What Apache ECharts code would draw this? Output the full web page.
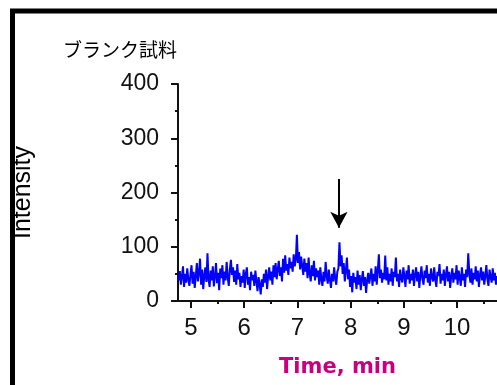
<!DOCTYPE html>
<html>
<head>
<meta charset="utf-8">
<script src="https://cdn.jsdelivr.net/npm/echarts@6/dist/echarts.min.js"></script>
<style>
  html, body { margin: 0; padding: 0; background: #fff; }
  #main { width: 497px; height: 385px; }
</style>
</head>
<body>
<div id="main"></div>
<script>
// chromatogram of the blank sample
var titleText = 'ブランク試料';
var xName = 'Time, min';
var yName = 'Intensity';

var xTicks = [5, 6, 7, 8, 9, 10];
var xMinorTicks = [5.5, 6.5, 7.5, 8.5, 9.5, 10.5];

// sampling of the trace
var timeStart = 4.77;
var timeStep = 0.02;

var intensity = [
    38, 55, 30, 46, 64, 26, 50, 34, 60, 40,
    28, 48, 66, 32, 54, 24, 45, 70, 36, 52,
    78, 30, 58, 22, 47, 62, 35, 88, 40, 26,
    56, 38, 64, 27, 45, 70, 33, 52, 20, 60,
    42, 66, 30, 54, 38, 72, 44, 28, 58, 76,
    48, 62, 35, 56, 30, 68, 40, 52, 26, 46,
    34, 58, 24, 50, 62, 30, 44, 20, 54, 38,
    48, 28, 56, 36, 18, 44, 30, 12, 40, 26,
    50, 34, 58, 22, 46, 62, 38, 54, 30, 66,
    44, 70, 40, 58, 74, 46, 62, 36, 78, 52,
    84, 56, 68, 48, 80, 60, 72, 54, 86, 64,
    76, 122, 70, 90, 58, 82, 64, 48, 78, 54,
    70, 42, 80, 50, 36, 66, 46, 74, 38, 60,
    44, 56, 30, 62, 40, 28, 54, 36, 72, 46,
    32, 58, 40, 24, 50, 36, 62, 42, 30, 54,
    60, 108, 64, 84, 50, 70, 36, 56, 80, 40,
    58, 26, 46, 16, 52, 34, 44, 22, 56, 30,
    48, 20, 40, 55, 28, 44, 15, 38, 52, 32,
    46, 60, 28, 50, 36, 64, 30, 56, 86, 42,
    58, 34, 52, 40, 84, 38, 62, 30, 50, 36,
    60, 28, 54, 44, 80, 36, 50, 26, 58, 42,
    34, 62, 46, 26, 56, 40, 66, 32, 50, 38,
    58, 28, 48, 62, 36, 54, 24, 46, 64, 40,
    30, 56, 42, 66, 34, 50, 28, 60, 44, 36,
    62, 40, 26, 54, 46, 68, 32, 50, 38, 58,
    28, 48, 64, 36, 54, 24, 46, 60, 34, 52,
    40, 66, 30, 56, 44, 28, 62, 38, 50, 26,
    58, 44, 88, 50, 34, 60, 30, 52, 40, 64,
    36, 56, 26, 48, 62, 38, 54, 30, 46, 66,
    40, 28, 58, 44, 34, 60, 38, 52, 30, 46
];

// arrow marking the expected peak
var arrowTime = 7.78;
var arrowFrom = 225;
var arrowTo = 135;

var seriesData = intensity.map(function (v, i) {
    return [+(timeStart + i * timeStep).toFixed(3), v];
});

var labelFont = '"Liberation Sans", Arial, sans-serif';

var chart = echarts.init(document.getElementById('main'), null, { renderer: 'canvas' });

var option = {
    backgroundColor: '#ffffff',
    animation: false,
    title: {
        text: titleText,
        left: 58,
        top: 35,
        textStyle: {
            fontFamily: '"Noto Sans CJK JP", sans-serif',
            fontSize: 19,
            fontWeight: 'normal',
            color: '#000'
        }
    },
    graphic: [{
        type: 'rect',
        shape: { x: 12.5, y: 11, width: 700, height: 700 },
        style: { fill: 'none', stroke: '#000', lineWidth: 5 },
        silent: true
    }],
    grid: {
        left: 178,
        right: 0,
        top: 84,
        bottom: 84
    },
    xAxis: [{
        type: 'value',
        min: 4.756,
        max: 10.75,
        name: xName,
        nameLocation: 'middle',
        nameGap: 56,
        nameTextStyle: {
            fontFamily: '"DejaVu Sans", sans-serif',
            fontWeight: 'bold',
            fontSize: 21,
            color: '#c8007f'
        },
        axisLine: { lineStyle: { color: '#111', width: 2 } },
        axisTick: { customValues: xTicks, length: 7, lineStyle: { color: '#111', width: 2 } },
        axisLabel: {
            customValues: xTicks,
            margin: 15,
            fontFamily: labelFont,
            fontSize: 24,
            color: '#111'
        },
        splitLine: { show: false }
    }, {
        type: 'value',
        position: 'bottom',
        min: 4.756,
        max: 10.75,
        axisLine: { show: false },
        axisTick: { customValues: xMinorTicks, length: 3, lineStyle: { color: '#111', width: 2 } },
        axisLabel: { show: false },
        splitLine: { show: false }
    }],
    yAxis: {
        type: 'value',
        min: 0,
        max: 400,
        interval: 100,
        name: yName,
        nameLocation: 'middle',
        nameGap: 142,
        nameTextStyle: {
            fontFamily: labelFont,
            fontSize: 25,
            color: '#000'
        },
        axisLine: { show: true, lineStyle: { color: '#111', width: 2 } },
        axisTick: { show: true, length: 7, lineStyle: { color: '#111', width: 2 } },
        minorTick: { show: true, splitNumber: 2, length: 3, lineStyle: { color: '#111', width: 2 } },
        axisLabel: {
            margin: 19,
            fontFamily: labelFont,
            fontSize: 23,
            color: '#111'
        },
        splitLine: { show: false }
    },
    series: [{
        type: 'line',
        data: seriesData,
        showSymbol: false,
        lineStyle: { color: '#0000ff', width: 2 },
        markLine: {
            silent: true,
            symbol: ['none', 'arrow'],
            symbolSize: [13, 16],
            label: { show: false },
            lineStyle: { color: '#000', width: 2, type: 'solid' },
            data: [[
                { coord: [arrowTime, arrowFrom] },
                { coord: [arrowTime, arrowTo] }
            ]]
        }
    }]
};

chart.setOption(option);
</script>
</body>
</html>
